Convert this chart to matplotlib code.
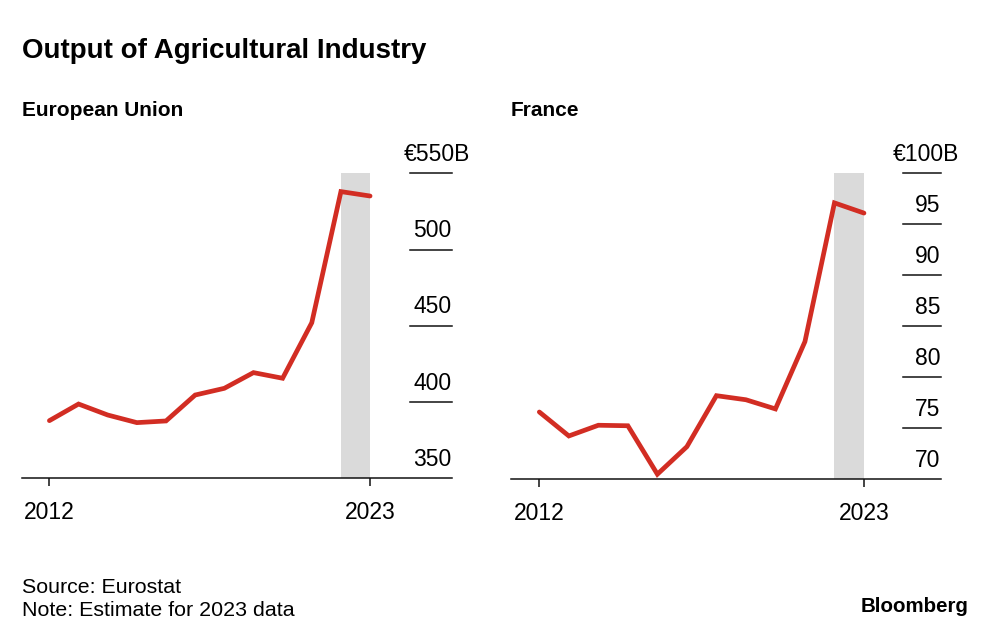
import matplotlib
matplotlib.use("Agg")
import matplotlib.pyplot as plt
from matplotlib.transforms import blended_transform_factory

plt.rcParams['font.family'] = ['Liberation Sans', 'DejaVu Sans']

years = [2012, 2013, 2014, 2015, 2016, 2017, 2018, 2019, 2020, 2021, 2022, 2023]
eu_values = [387.8, 398.7, 391.5, 386.5, 387.6, 404.6, 409.0, 419.3, 415.6, 452.0, 538.0, 535.1]
fr_values = [76.6, 74.25, 75.3, 75.25, 70.5, 73.2, 78.2, 77.8, 76.9, 83.5, 97.1, 96.1]

eu_yticks = [350, 400, 450, 500, 550]
eu_ylabels = ["350", "400", "450", "500", "€550B"]
fr_yticks = [70, 75, 80, 85, 90, 95, 100]
fr_ylabels = ["70", "75", "80", "85", "90", "95", "€100B"]
xticks = [2012, 2023]
xlabels = ["2012", "2023"]
shade_span = (2022, 2023)

RED = "#d22d23"
GREY = "#dadada"
INK = "#111111"
TICK_FS = 16.5

fig = plt.figure(figsize=(10, 6.39), dpi=100)

def panel(rect, values, yticks, ylabels, xlim, line_start):
    ax = fig.add_axes(rect)
    ax.axvspan(*shade_span, color=GREY, lw=0, zorder=1)
    ax.plot(years, values, color=RED, lw=3.4, solid_capstyle='round',
            solid_joinstyle='miter', zorder=3)
    ax.set_xlim(*xlim)
    ax.set_ylim(yticks[0], yticks[-1])
    for s in ['top', 'right', 'left']:
        ax.spines[s].set_visible(False)
    ax.spines['bottom'].set_color(INK)
    ax.spines['bottom'].set_linewidth(1.1)
    ax.set_yticks([])
    ax.set_xticks(xticks)
    ax.set_xticklabels(xlabels, fontsize=TICK_FS)
    ax.tick_params(axis='x', length=6, width=1.1, color=INK, pad=10)
    tr = blended_transform_factory(ax.transAxes, ax.transData)
    for i, (v, lab) in enumerate(zip(yticks, ylabels)):
        if v != yticks[0]:
            ax.plot([line_start, 1.0], [v, v], transform=tr, color=INK,
                    lw=1.1, clip_on=False, zorder=2)
        dx = 13.5 if i == len(yticks) - 1 else 0
        ax.annotate(lab, xy=(1.0, v), xycoords=tr, xytext=(dx, 9),
                    textcoords='offset points', ha='right', va='baseline',
                    fontsize=TICK_FS, annotation_clip=False)
    return ax

panel([0.0217, 0.2515, 0.43, 0.4773], eu_values, eu_yticks, eu_ylabels,
      (2011.05, 2025.8), 0.903)
panel([0.5107, 0.2499, 0.43, 0.4789], fr_values, fr_yticks, fr_ylabels,
      (2011.03, 2025.6), 0.912)

fig.text(0.022, 1 - 58 / 639, "Output of Agricultural Industry", fontsize=20,
         fontweight='bold', va='baseline', ha='left')
fig.text(0.022, 1 - 116.5 / 639, "European Union", fontsize=15,
         fontweight='bold', va='baseline', ha='left')
fig.text(0.511, 1 - 116.5 / 639, "France", fontsize=15,
         fontweight='bold', va='baseline', ha='left')
fig.text(0.022, 1 - 593.3 / 639, "Source: Eurostat", fontsize=15.4,
         va='baseline', ha='left')
fig.text(0.022, 1 - 616.5 / 639, "Note: Estimate for 2023 data", fontsize=15.4,
         va='baseline', ha='left')
fig.text(0.969, 1 - 612 / 639, "Bloomberg", fontsize=14.8,
         fontweight='bold', va='baseline', ha='right')

fig.savefig("out.png", dpi=100)
